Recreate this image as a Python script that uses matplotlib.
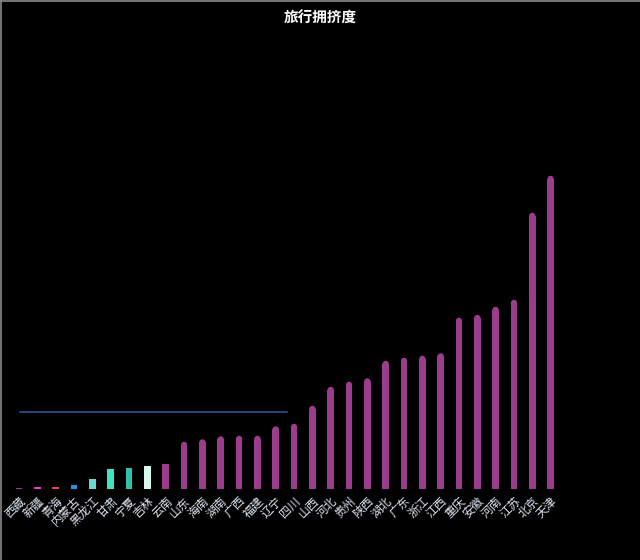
import matplotlib
matplotlib.use("Agg")
import matplotlib.pyplot as plt
from matplotlib.lines import Line2D
import numpy as np

plt.rcParams['font.family'] = ['Noto Sans CJK SC', 'DejaVu Sans']

# 旅行拥挤度 by province
provinces = ['西藏', '新疆', '青海', '内蒙古', '黑龙江', '甘肃', '宁夏', '吉林', '云南', '山东',
             '海南', '湖南', '广西', '福建', '辽宁', '四川', '山西', '河北', '贵州', '陕西',
             '湖北', '广东', '浙江', '江西', '重庆', '安徽', '河南', '江苏', '北京', '天津']
crowding = [1, 2, 2, 4, 10, 20, 21, 23, 25, 44,
            46.5, 49.5, 50, 50, 59.5, 62, 80, 99, 104, 107.5,
            125, 128, 130, 132.5, 168, 171, 179, 186, 273, 310]
bar_colors = ['#9a3b8c', '#e03fc8', '#e0456e', '#2f8fe0', '#6fd6cf', '#3ee3c2', '#2fc1a9',
              '#d8f8f0'] + ['#9b3c8c'] * 22

# reference line (spans only part of the axis)
ref_x = [0.05, 14.6]
ref_value = 77

bg = '#000000'
fig = plt.figure(figsize=(6.4, 5.6), dpi=100, facecolor=bg)
ax = fig.add_axes([0.0156, 0.127, 0.859, 0.8036])
ax.set_facecolor(bg)

x = np.arange(len(provinces))
w = 0.36
vals = np.array(crowding)
ax.bar(x, vals, width=w, color=bar_colors, zorder=2)

# rounded tops on the taller bars
tall = vals > 40
ax.scatter(x[tall], vals[tall], s=20, color=np.array(bar_colors)[tall],
           marker='o', linewidths=0, zorder=2)

ax.plot(ref_x, [ref_value, ref_value], color='#2f5a9a', linewidth=1.1, zorder=3)

ax.set_xlim(-0.5, len(provinces) - 0.5)
ax.set_ylim(0, 450)
for s in ax.spines.values():
    s.set_visible(False)
ax.set_yticks([])
ax.set_xticks(x)
ax.set_xticklabels(provinces, rotation=45, ha='right', rotation_mode='anchor',
                   color='#dde6f0', fontsize=8.5)
ax.tick_params(axis='x', length=0, pad=4)

fig.text(0.5, 0.968, '旅行拥挤度', ha='center', va='center', color='white',
         fontsize=10.5, fontweight='bold')

# thin frame at top and left edge
fig.add_artist(Line2D([0, 1], [0.999, 0.999], color='#8a8a8a', linewidth=1.2))
fig.add_artist(Line2D([0.001, 0.001], [0, 1], color='#8a8a8a', linewidth=1.2))

fig.savefig('out.png', dpi=100, facecolor=bg)
